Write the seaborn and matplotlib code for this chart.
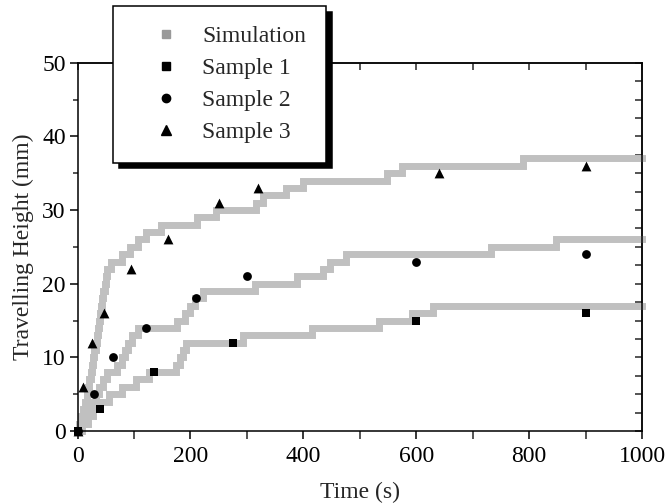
import pandas as pd
import seaborn as sns
import matplotlib.pyplot as plt
from matplotlib import font_manager
from matplotlib.lines import Line2D
from matplotlib.ticker import MultipleLocator

# Simulated travelling height (step curves), time in s, height in mm
sim1_t = [0, 8, 18, 28, 40, 55, 78, 104, 127, 175, 182, 187, 193, 293, 415, 534, 593, 629, 1000]
sim1_h = [0, 1, 2, 3, 4, 5, 6, 7, 8, 9, 10, 11, 12, 13, 14, 15, 16, 17, 17]

sim2_t = [0, 5, 12, 18, 25, 32, 38, 45, 52, 70, 78, 84, 90, 97, 108, 176, 190, 200, 208,
          223, 314, 388, 435, 447, 476, 733, 848, 1000]
sim2_h = [0, 1, 2, 3, 4, 5, 6, 7, 8, 9, 10, 11, 12, 13, 14, 15, 16, 17, 18,
          19, 20, 21, 22, 23, 24, 25, 26, 26]

sim3_t = [0, 3, 7, 10, 13, 16, 19, 21, 24, 26, 28, 30, 32, 34, 36, 38, 40, 42, 44, 46, 48,
          50, 53, 60, 78, 93, 108, 122, 147, 211, 246, 317, 329, 370, 400, 548, 574, 789, 1000]
sim3_h = [0, 1, 2, 3, 4, 5, 6, 7, 8, 9, 10, 11, 12, 13, 14, 15, 16, 17, 18, 19, 20,
          21, 22, 23, 24, 25, 26, 27, 28, 29, 30, 31, 32, 33, 34, 35, 36, 37, 37]

# Measured samples
s1_t = [0, 40, 135, 275, 600, 900]
s1_h = [0, 3, 8, 12, 15, 16]
s2_t = [0, 30, 62, 122, 210, 300, 600, 900]
s2_h = [0, 5, 10, 14, 18, 21, 23, 24]
s3_t = [0, 9, 25, 47, 95, 160, 250, 320, 640, 900]
s3_h = [0, 6, 12, 16, 22, 26, 31, 33, 35, 36]

legend_labels = ['Simulation', 'Sample 1', 'Sample 2', 'Sample 3']

sns.set_style('ticks')
installed = {f.name for f in font_manager.fontManager.ttflist}
serif = [n for n in ['Liberation Serif', 'Times New Roman', 'STIXGeneral',
                     'DejaVu Serif'] if n in installed]
plt.rcParams['font.family'] = serif
plt.rcParams['mathtext.fontset'] = 'stix'

fs = 17
fig = plt.figure(figsize=(6.66, 5.04), dpi=100)
ax = fig.add_axes([0.1164, 0.1448, 0.964 - 0.1164, 0.8756 - 0.1448])

sim_color = '#c0c0c0'
for t, h in [(sim1_t, sim1_h), (sim2_t, sim2_h), (sim3_t, sim3_h)]:
    sns.lineplot(x=t, y=h, ax=ax, color=sim_color, lw=5, drawstyle='steps-post',
                 estimator=None, sort=False, clip_on=False, zorder=2,
                 solid_joinstyle='miter', solid_capstyle='projecting')

sns.scatterplot(x=s1_t, y=s1_h, ax=ax, marker='s', s=30, color='black', linewidth=0,
                zorder=3, clip_on=False)
sns.scatterplot(x=s2_t, y=s2_h, ax=ax, marker='o', s=40, color='black', linewidth=0,
                zorder=3, clip_on=False)
sns.scatterplot(x=s3_t, y=s3_h, ax=ax, marker='^', s=50, color='black', linewidth=0,
                zorder=3, clip_on=False)

ax.set_xlim(0, 1000)
ax.set_ylim(0, 50)
ax.xaxis.set_major_locator(MultipleLocator(200))
ax.xaxis.set_minor_locator(MultipleLocator(100))
ax.yaxis.set_major_locator(MultipleLocator(10))
ax.yaxis.set_minor_locator(MultipleLocator(5))
ax.tick_params(axis='both', which='major', direction='out', length=6, width=1.1,
               labelsize=fs, colors='black')
ax.tick_params(axis='x', which='major', pad=4.5)
ax.tick_params(axis='y', which='major', pad=2.5)
ax.tick_params(axis='x', which='minor', direction='out', length=6, width=1.1)
ax.tick_params(axis='y', which='minor', direction='out', length=3.6, width=1.1)
for sp in ax.spines.values():
    sp.set_linewidth(1.1)
    sp.set_color('black')

# top and right ticks pointing inward
top = ax.secondary_xaxis('top')
top.set_xticks(range(0, 1001, 100))
top.tick_params(direction='in', length=4.8, width=1.1, labeltop=False)
top.spines['top'].set_linewidth(1.1)
right = ax.secondary_yaxis('right')
right.set_yticks([i * 2.5 for i in range(21)])
right.tick_params(direction='in', length=4.8, width=1.1, labelright=False)
right.spines['right'].set_linewidth(1.1)

ax.set_xlabel('Time (s)', fontsize=fs, labelpad=11)
ax.set_ylabel('Travelling Height (mm)', fontsize=fs, labelpad=6)

handles = [
    Line2D([], [], ls='none', marker='s', ms=5.5, color='#999999'),
    Line2D([], [], ls='none', marker='s', ms=5.5, color='black'),
    Line2D([], [], ls='none', marker='o', ms=6, color='black'),
    Line2D([], [], ls='none', marker='^', ms=6.5, color='black'),
]
leg = fig.legend(handles, legend_labels, loc='upper left',
                 bbox_to_anchor=(112.7 / 666, 1 - 6 / 504), borderaxespad=0,
                 fontsize=fs, frameon=True, fancybox=False, edgecolor='black',
                 framealpha=1, borderpad=0.82, labelspacing=0.45,
                 handlelength=2.9, handletextpad=0.08,
                 shadow={'ox': 4.3, 'oy': -4.0, 'facecolor': 'black',
                         'edgecolor': 'black', 'alpha': 1})
leg.get_frame().set_linewidth(1.1)

fig.savefig('out.png', dpi=100)
